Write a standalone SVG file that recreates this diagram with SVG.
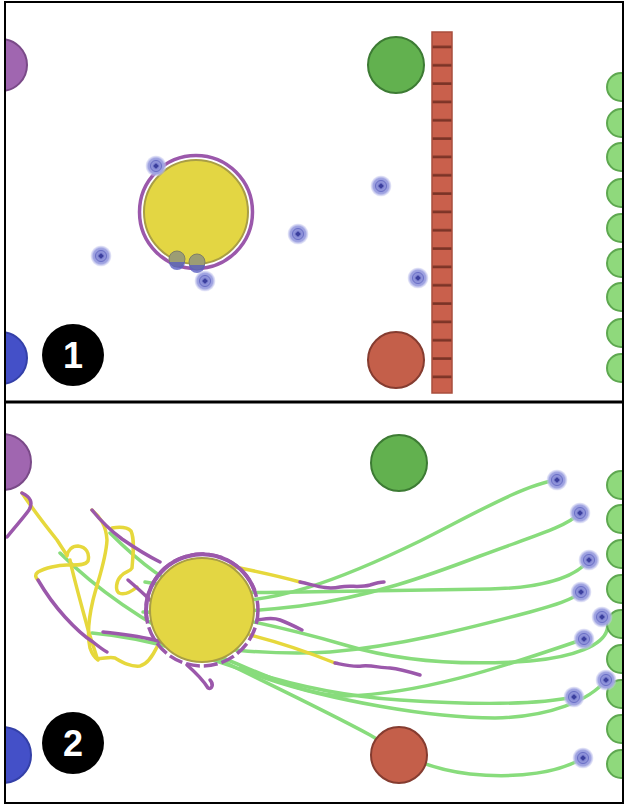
<svg xmlns="http://www.w3.org/2000/svg" xmlns:xlink="http://www.w3.org/1999/xlink" width="630" height="808" viewBox="0 0 630 808">
<style>
.g{fill:none;stroke:#88dc7c;stroke-width:3.5;stroke-linecap:round;stroke-linejoin:round}
.y{fill:none;stroke:#e6d83c;stroke-width:3.5;stroke-linecap:round;stroke-linejoin:round}
.p{fill:none;stroke:#9b58ab;stroke-width:3.5;stroke-linecap:round;stroke-linejoin:round}
.big-g{fill:#62b14f;stroke:#3d7b34;stroke-width:2}
.big-r{fill:#c45f4a;stroke:#853c30;stroke-width:2}
.sm-g{fill:#8fd97c;stroke:#5ea850;stroke-width:2}
.pur{fill:#a066b0;stroke:#7a4a88;stroke-width:2}
.blu{fill:#4450c8;stroke:#3440a8;stroke-width:2}
.yel{fill:#e3d643;stroke:#a99e45;stroke-width:2}
.num{fill:#000}
.numt{fill:#fff;font-family:"Liberation Sans",Arial,sans-serif;font-weight:bold;font-size:36px;text-anchor:middle}
</style>
<defs>
<radialGradient id="halo">
<stop offset="0" stop-color="#5b60c0"/>
<stop offset="0.35" stop-color="#8d91d8"/>
<stop offset="0.75" stop-color="#a2a6e2"/>
<stop offset="1" stop-color="#c8caf0" stop-opacity="0.3"/>
</radialGradient>
<g id="pt">
<circle r="10.5" fill="url(#halo)"/>
<circle r="5.5" fill="none" stroke="#6a6fc6" stroke-width="1"/>
<path d="M0,-2.8 L2.8,0 L0,2.8 L-2.8,0Z" fill="#3b3f9e"/>
</g>
<clipPath id="c1"><rect x="6" y="3" width="616" height="398"/></clipPath>
<clipPath id="c2"><rect x="6" y="403" width="616" height="399"/></clipPath>
<pattern id="brick" x="0" y="38.67" width="30" height="18.33" patternUnits="userSpaceOnUse">
<rect width="30" height="18.33" fill="#c9604c"/>
<rect y="7" width="30" height="2.6" fill="#7a3326"/>
</pattern>
</defs>
<rect x="0" y="0" width="630" height="808" fill="#fff"/>

<!-- TOP PANEL -->
<g clip-path="url(#c1)">
<g id="t-purple"><circle class="pur" cx="1" cy="65" r="26"/></g>
<g id="t-blue"><circle class="blu" cx="1" cy="358" r="26"/></g>
<g id="t-green"><circle class="big-g" cx="396" cy="65" r="28"/></g>
<g id="t-red"><circle class="big-r" cx="396" cy="360" r="28"/></g>
<g id="t-wall">
<rect x="432" y="32" width="20" height="361" fill="url(#brick)" stroke="#a84e3c" stroke-width="1.5"/>
</g>
<g id="t-yellow">
<circle cx="196" cy="212" r="56.5" fill="none" stroke="#9b58ab" stroke-width="3.5"/>
<circle class="yel" cx="196" cy="212" r="52"/>
<circle cx="177" cy="259" r="8" fill="#9c9d74" stroke="#7f7f68" stroke-width="1"/>
<path d="M169,262 A8,8 0 0 0 185,262" fill="#5a5fc0" opacity="0.8"/>
<circle cx="197" cy="262" r="8" fill="#9c9d74" stroke="#7f7f68" stroke-width="1"/>
<path d="M189,265 A8,8 0 0 0 205,265" fill="#5a5fc0" opacity="0.8"/>
</g>
<g id="t-right-circles">
<circle class="sm-g" cx="621" cy="87" r="14"/>
<circle class="sm-g" cx="621" cy="123" r="14"/>
<circle class="sm-g" cx="621" cy="157" r="14"/>
<circle class="sm-g" cx="621" cy="193" r="14"/>
<circle class="sm-g" cx="621" cy="228" r="14"/>
<circle class="sm-g" cx="621" cy="263" r="14"/>
<circle class="sm-g" cx="621" cy="297" r="14"/>
<circle class="sm-g" cx="621" cy="333" r="14"/>
<circle class="sm-g" cx="621" cy="368" r="14"/>
</g>
<g id="t-particles">
<use href="#pt" x="156" y="166"/>
<use href="#pt" x="101" y="256"/>
<use href="#pt" x="205" y="281"/>
<use href="#pt" x="298" y="234"/>
<use href="#pt" x="381" y="186"/>
<use href="#pt" x="418" y="278"/>
</g>
<g id="t-label"><circle class="num" cx="73" cy="355" r="31"/><text class="numt" x="73" y="368">1</text></g>
</g>

<!-- BOTTOM PANEL -->
<g clip-path="url(#c2)">
<g id="b-purple"><circle class="pur" cx="3" cy="462" r="28"/></g>
<g id="b-blue"><circle class="blu" cx="3" cy="755" r="28"/></g>
<g id="b-green"><circle class="big-g" cx="399" cy="463" r="28"/></g>
<g id="connectors">
<path class="g" d="M110,533 C135,558 170,590 215,600 C270,606 340,580 420,541 C470,516 525,484 557,480"/>
<path class="g" d="M60,553 C95,588 140,620 200,650 C260,680 320,708 370,735 C400,752 420,768 470,774 C520,779 560,772 583,758"/>
<path class="g" d="M92,633 C150,638 210,658 265,678 C330,700 430,718 495,718 C550,717 590,700 606,680"/>
<path class="g" d="M143,612 C190,614 250,612 300,606 C370,597 430,575 480,556 C530,537 565,528 580,513"/>
<path class="g" d="M145,582 C190,590 230,594 300,592 L490,589 C540,588 575,578 589,560"/>
<path class="g" d="M150,640 C210,648 270,656 330,652 C400,646 470,628 530,612 C555,605 572,600 581,592"/>
<path class="g" d="M200,612 C250,620 300,632 345,645 C395,660 460,666 530,661 C575,657 603,645 607,630 C609,624 606,619 602,617"/>
<path class="g" d="M215,655 C260,672 300,695 345,696 C420,694 500,668 584,639"/>
<path class="g" d="M240,668 C290,685 340,696 400,700 C460,704 530,706 574,697"/>
<path class="y" d="M22,493 C30,505 45,525 57,540 C62,548 66,553 67,556 C68,550 72,546 78,546 C86,547 90,553 88,561 C85,566 75,565 67,565 C58,565 45,568 38,572 C34,575 36,578 38,580"/>
<path class="y" d="M70,560 C73,575 80,600 86,622 C90,638 95,650 97,658 C102,660 108,656 115,658 C122,662 130,667 140,666 C148,664 153,655 157,647"/>
<path class="y" d="M92,510 C100,517 106,525 107,540 C106,560 98,580 93,600 C89,617 87,635 90,648 C92,654 95,658 98,660"/>
<path class="y" d="M112,528 C118,527 126,526 131,531 C135,540 133,555 132,568 C130,572 125,571 121,576 C116,581 115,590 119,593 C124,595 131,592 137,587"/>
<path class="y" d="M230,566 C250,570 275,575 300,582"/>
<path class="y" d="M250,635 C270,640 295,647 335,663"/>
<path class="p" d="M7,537 C15,527 24,517 29,510 C33,503 31,497 22,493"/>
<path class="p" d="M38,580 C45,592 55,606 65,617 C75,628 85,637 93,642 C98,646 103,650 107,652"/>
<path class="p" d="M92,510 C100,520 110,530 122,539 C135,548 148,556 160,562"/>
<path class="p" d="M128,580 C135,586 143,593 150,600"/>
<path class="p" d="M103,632 C120,634 140,636 158,641 C170,644 178,647 185,650"/>
<path class="p" d="M187,665 C195,672 203,680 208,688 C212,690 214,684 210,680"/>
<path class="p" d="M300,582 C315,585 325,590 340,587 C350,585 360,588 370,585 C376,583 380,582 384,582"/>
<path class="p" d="M257,620 C265,619 272,617 280,620 C288,623 296,627 302,630"/>
<path class="p" d="M335,663 C345,665 352,667 362,666 C372,665 380,668 390,668 C400,669 410,672 420,675"/>
</g>
<g id="b-red"><circle class="big-r" cx="399" cy="755" r="28"/></g>
<g id="b-yellow">
<circle cx="202" cy="610" r="56" fill="none" stroke="#9b58ab" stroke-width="3.5" stroke-dasharray="14 4"/>
<path d="M146.9,619.7 A56,56 0 0 1 254.6,590.8" fill="none" stroke="#9b58ab" stroke-width="4"/>
<circle class="yel" cx="202" cy="610" r="52"/>
</g>
<g id="b-right-circles">
<circle class="sm-g" cx="621" cy="485" r="14"/>
<circle class="sm-g" cx="621" cy="519" r="14"/>
<circle class="sm-g" cx="621" cy="554" r="14"/>
<circle class="sm-g" cx="621" cy="589" r="14"/>
<circle class="sm-g" cx="621" cy="624" r="14"/>
<circle class="sm-g" cx="621" cy="659" r="14"/>
<circle class="sm-g" cx="621" cy="694" r="14"/>
<circle class="sm-g" cx="621" cy="729" r="14"/>
<circle class="sm-g" cx="621" cy="764" r="14"/>
</g>
<g id="b-particles">
<use href="#pt" x="557" y="480"/>
<use href="#pt" x="580" y="513"/>
<use href="#pt" x="589" y="560"/>
<use href="#pt" x="581" y="592"/>
<use href="#pt" x="602" y="617"/>
<use href="#pt" x="584" y="639"/>
<use href="#pt" x="606" y="680"/>
<use href="#pt" x="574" y="697"/>
<use href="#pt" x="583" y="758"/>
</g>
<g id="b-label"><circle class="num" cx="73" cy="743" r="31"/><text class="numt" x="73" y="756">2</text></g>
</g>

<g id="frame" fill="none" stroke="#000">
<rect x="5" y="2" width="618" height="801" stroke-width="2"/>
<line x1="5" y1="402" x2="623" y2="402" stroke-width="3"/>
</g>
</svg>
